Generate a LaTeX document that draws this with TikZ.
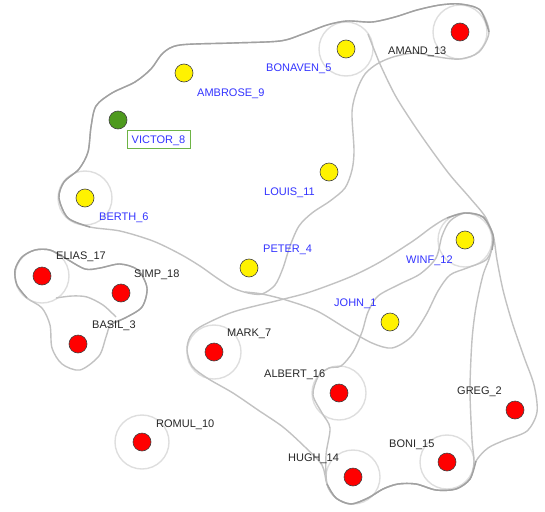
\documentclass[tikz,border=0pt]{standalone}
\usepackage{fontspec}
\setmainfont{Liberation Sans}
\definecolor{lblue}{RGB}{51,51,255}
\definecolor{vgreen}{RGB}{78,154,30}
\definecolor{vbox}{RGB}{110,180,70}
\begin{document}
\begin{tikzpicture}[x=1pt,y=-1pt,
  dot/.style={circle, draw=black!75, line width=0.6pt, minimum size=18pt, inner sep=0pt},
  lab/.style={anchor=base west, inner sep=0pt, font=\fontsize{11}{13}\selectfont},
  blab/.style={lab, text=lblue},
  klab/.style={lab, text=black!85},
  halo/.style={draw=black!13, line width=1.4pt},
  hull/.style={draw=black!24, line width=1.4pt},
  hulldark/.style={draw=black!37, line width=1.4pt}]
\useasboundingbox (0,0) rectangle (545,511);
% node centres
\coordinate (cAMAND) at (460,32);
\coordinate (cBONAVEN) at (346,49);
\coordinate (cAMBROSE) at (184,73);
\coordinate (cVICTOR) at (118,120);
\coordinate (cBERTH) at (85,198);
\coordinate (cLOUIS) at (329,172);
\coordinate (cPETER) at (249,268);
\coordinate (cWINF) at (465,240);
\coordinate (cJOHN) at (390,322);
\coordinate (cELIAS) at (42,276);
\coordinate (cSIMP) at (121,293);
\coordinate (cBASIL) at (78,344);
\coordinate (cMARK) at (214,352);
\coordinate (cROMUL) at (142,442);
\coordinate (cALBERT) at (339,393);
\coordinate (cGREG) at (515,410);
\coordinate (cBONI) at (447,462);
\coordinate (cHUGH) at (353,477);
% halos
\foreach \n in {AMAND,BONAVEN,BERTH,WINF,ELIAS,MARK,ROMUL,ALBERT,BONI,HUGH}
  \draw[halo] (c\n) circle[radius=27];
% hull P (top group)
\draw[hull] plot[smooth cycle] coordinates {
 (180,45) (233,43) (280,41) (303,34) (327,25) (347,21) (372,22) (395,17) (417,10) (440,5)
 (460,4) (480,10) (489,32) (479,52) (460,59) (438,57) (415,53) (393,57) (377,64) (365,74)
 (357,90) (352,112) (354,150) (352,170) (345,188) (330,201) (312,213) (299,226) (290,246)
 (283,268) (275,285) (262,294) (248,293) (233,288) (217,278) (200,266) (180,254) (153,241)
 (120,231) (90,227) (68,218) (59,198) (64,182) (79,169) (88,152) (91,127) (96,106)
 (112,93) (135,82) (151,69) (163,53)};
% darker shared top and left edge
\draw[hulldark] plot[smooth] coordinates {
 (90,227) (68,218) (59,198) (64,182) (79,169) (88,152) (91,127) (96,106)
 (112,93) (135,82) (151,69) (163,53) (180,45) (233,43) (280,41) (303,34) (327,25)
 (347,21) (372,22) (395,17) (417,10) (440,5) (460,4) (480,10) (489,32)};
% hull T (diagonal to WINF and below JOHN)
\draw[hull] plot[smooth] coordinates {
 (368,34) (380,64) (395,95) (412,122) (430,148) (450,175) (470,198) (486,218) (493,240)
 (487,259) (467,268) (450,275) (438,291) (426,315) (411,337) (392,348) (372,343)
 (347,329) (317,311) (286,300) (262,294) (245,292)};
% hull R (red group)
\draw[hull] plot[smooth cycle] coordinates {
 (200,327) (233,312) (280,300) (310,292) (350,277) (380,262) (413,241) (432,227)
 (447,218) (465,213) (483,217) (493,235) (497,260) (503,290) (512,322) (524,357)
 (534,385) (537,412) (527,431) (505,440) (488,448) (476,461) (470,479) (456,489)
 (436,490) (416,484) (398,484) (383,489) (368,498) (351,504) (336,498) (327,484)
 (322,465) (305,447) (283,427) (258,410) (233,393) (207,378) (192,366) (187,350) (190,337)};
% hull S
\draw[hull] plot[smooth cycle] coordinates {
 (341,366) (353,352) (362,332) (368,312) (378,296) (400,284) (420,274) (436,258)
 (442,236) (450,221) (465,213) (483,217) (493,235) (490,256) (483,275) (476,307)
 (472,340) (470,390) (472,440) (474,462) (470,479) (456,489) (436,490) (416,484)
 (398,484) (383,489) (368,498) (351,504) (336,498) (327,484) (326,455) (330,428)
 (322,413) (313,395) (318,377) (329,368)};
% shared darker parts of R and S
\draw[hulldark] plot[smooth] coordinates {
 (476,461) (470,479) (456,489) (436,490) (416,484) (398,484) (383,489) (368,498)
 (351,504) (336,498) (327,484)};
\draw[hulldark] plot[smooth] coordinates {
 (447,218) (465,213) (483,217) (493,235) (492,250)};
% left groups
\draw[hull] plot[smooth cycle] coordinates {
 (27,298) (17,285) (15,270) (22,257) (35,250) (50,250) (65,258) (85,269) (100,268)
 (120,264) (138,270) (147,288) (142,307) (125,318) (111,324) (106,337) (99,356)
 (80,370) (62,364) (52,348) (50,325) (42,308)};
\draw[hulldark] plot[smooth] coordinates {
 (27,298) (17,285) (15,270) (22,257) (35,250) (50,250) (65,258) (85,269) (100,268)
 (120,264) (138,270) (147,288) (142,307) (125,318) (111,324)};
\draw[hull] plot[smooth] coordinates {
 (56,298) (72,296) (87,297) (103,305) (116,317)};
% dots
\node[dot, fill=red] (AMAND) at (cAMAND) {};
\node[dot, fill=yellow] (BONAVEN) at (cBONAVEN) {};
\node[dot, fill=yellow] (AMBROSE) at (cAMBROSE) {};
\node[dot, fill=vgreen] (VICTOR) at (cVICTOR) {};
\node[dot, fill=yellow] (BERTH) at (cBERTH) {};
\node[dot, fill=yellow] (LOUIS) at (cLOUIS) {};
\node[dot, fill=yellow] (PETER) at (cPETER) {};
\node[dot, fill=yellow] (WINF) at (cWINF) {};
\node[dot, fill=yellow] (JOHN) at (cJOHN) {};
\node[dot, fill=red] (ELIAS) at (cELIAS) {};
\node[dot, fill=red] (SIMP) at (cSIMP) {};
\node[dot, fill=red] (BASIL) at (cBASIL) {};
\node[dot, fill=red] (MARK) at (cMARK) {};
\node[dot, fill=red] (ROMUL) at (cROMUL) {};
\node[dot, fill=red] (ALBERT) at (cALBERT) {};
\node[dot, fill=red] (GREG) at (cGREG) {};
\node[dot, fill=red] (BONI) at (cBONI) {};
\node[dot, fill=red] (HUGH) at (cHUGH) {};
% labels
\node[klab] (lAMAND) at (388,54) {AMAND\_13};
\node[blab] (lBONAVEN) at (266,71) {BONAVEN\_5};
\node[blab] (lAMBROSE) at (197,96) {AMBROSE\_9};
\node[blab, anchor=center, draw=vbox, line width=0.7pt, minimum width=63pt, minimum height=18pt,
      text height=8pt, text depth=0pt] (lVICTOR) at (158.5,139) {VICTOR\_8};
\node[blab] (lBERTH) at (99,220) {BERTH\_6};
\node[blab] (lLOUIS) at (264,195) {LOUIS\_11};
\node[blab] (lPETER) at (263,252) {PETER\_4};
\node[blab] (lWINF) at (406,263) {WINF\_12};
\node[blab] (lJOHN) at (334,306) {JOHN\_1};
\node[klab] (lELIAS) at (56,259) {ELIAS\_17};
\node[klab] (lSIMP) at (134,277) {SIMP\_18};
\node[klab] (lBASIL) at (92,328) {BASIL\_3};
\node[klab] (lMARK) at (227,336) {MARK\_7};
\node[klab] (lROMUL) at (156,427) {ROMUL\_10};
\node[klab] (lALBERT) at (264,377) {ALBERT\_16};
\node[klab] (lGREG) at (457,394) {GREG\_2};
\node[klab] (lBONI) at (389,447) {BONI\_15};
\node[klab] (lHUGH) at (288,461) {HUGH\_14};
\end{tikzpicture}
\end{document}
